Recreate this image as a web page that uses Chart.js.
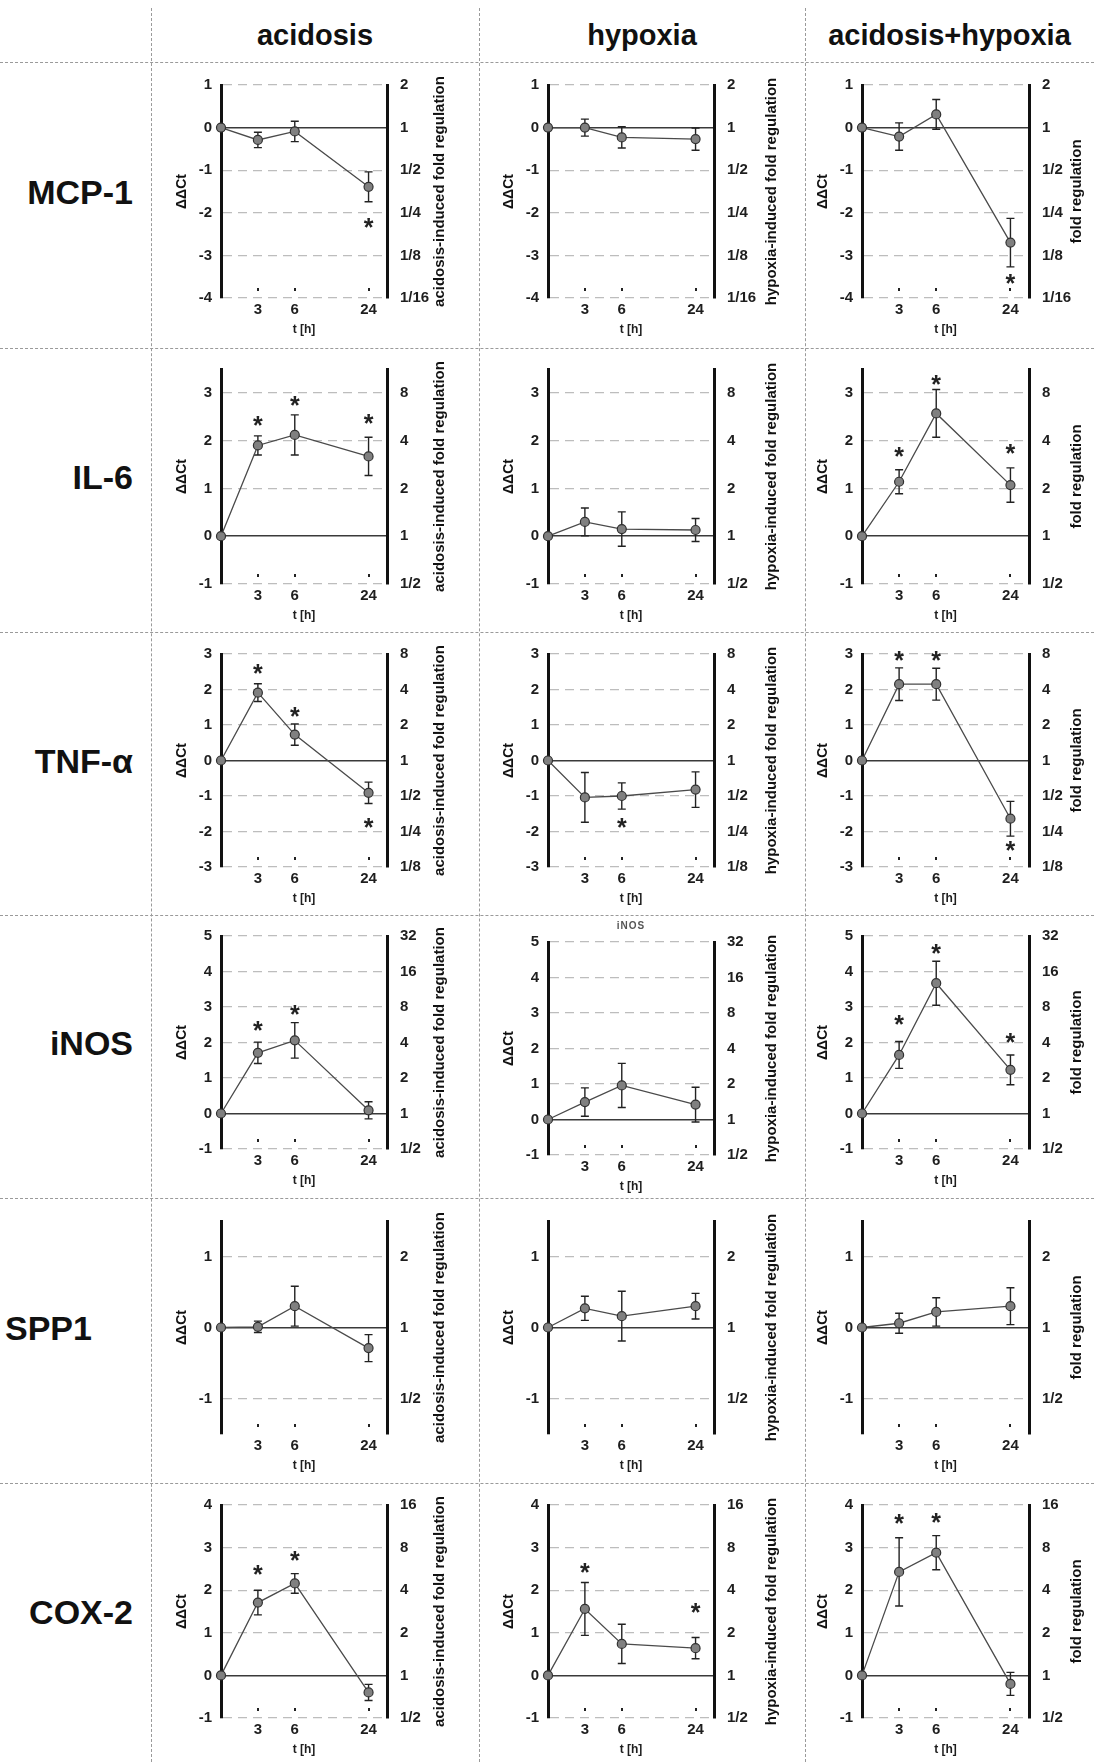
<!DOCTYPE html>
<html>
<head>
<meta charset="utf-8">
<title>ΔΔCt time courses</title>
<script src="https://cdn.jsdelivr.net/npm/chart.js@4.4.1/dist/chart.umd.min.js"></script>
<style>
  body { margin: 0; background: #fff; }
  #page { position: relative; width: 1094px; height: 1762px; overflow: hidden; font-family: 'Liberation Sans', Arial, sans-serif; }
  .hline { position: absolute; left: 0; width: 1094px; height: 0; border-top: 1px dashed #9a9a9a; }
  .vline { position: absolute; top: 8px; bottom: 0; width: 0; border-left: 1px dashed #9a9a9a; }
  .head { position: absolute; top: 17px; height: 36px; line-height: 36px; text-align: center; font-weight: bold; font-size: 29px; color: #111; }
  .gene { position: absolute; height: 40px; line-height: 40px; font-weight: bold; font-size: 34px; color: #111; }
  canvas { position: absolute; }
</style>
</head>
<body>
<div id="page"></div>
<script>
/*
  Grille 6 gènes x 3 conditions : ΔΔCt (axe gauche) et fold regulation = 2^ΔΔCt (axe droit)
*/
var genes = ['MCP-1', 'IL-6', 'TNF-α', 'iNOS', 'SPP1', 'COX-2'];
var conditions = ['acidosis', 'hypoxia', 'acidosis+hypoxia'];
var foldTitles = ['acidosis-induced fold regulation', 'hypoxia-induced fold regulation', 'fold regulation'];
var hours = [0, 3, 6, 24];
var yRanges = [[-4, 1], [-1, 3.5], [-3, 3], [-1, 5], [-1.5, 1.5], [-1, 4]]; // ΔΔCt par gène

// moyenne ΔΔCt à 0, 3, 6, 24 h / demi-barre d'erreur / position de l'étoile (null = pas d'étoile)
var noStars = [null, null, null, null];

var mcp1Acid = [0, -0.29, -0.09, -1.39], mcp1AcidErr = [0, 0.18, 0.24, 0.35], mcp1AcidStar = [null, null, null, -2.23];
var mcp1Hyp = [0, 0.0, -0.23, -0.27], mcp1HypErr = [0, 0.2, 0.25, 0.26];
var mcp1Both = [0, -0.21, 0.31, -2.70], mcp1BothErr = [0, 0.32, 0.35, 0.57], mcp1BothStar = [null, null, null, -3.55];

var il6Acid = [0, 1.90, 2.12, 1.67], il6AcidErr = [0, 0.2, 0.42, 0.4], il6AcidStar = [null, 2.41, 2.83, 2.45];
var il6Hyp = [0, 0.30, 0.15, 0.13], il6HypErr = [0, 0.29, 0.36, 0.24];
var il6Both = [0, 1.14, 2.57, 1.07], il6BothErr = [0, 0.25, 0.5, 0.36], il6BothStar = [null, 1.76, 3.26, 1.83];

var tnfAcid = [0, 1.91, 0.73, -0.91], tnfAcidErr = [0, 0.25, 0.3, 0.3], tnfAcidStar = [null, 2.58, 1.36, -1.77];
var tnfHyp = [0, -1.04, -1.0, -0.82], tnfHypErr = [0, 0.7, 0.37, 0.5], tnfHypStar = [null, null, -1.77, null];
var tnfBoth = [0, 2.15, 2.15, -1.64], tnfBothErr = [0, 0.46, 0.45, 0.49], tnfBothStar = [null, 2.95, 2.95, -2.42];

var inosAcid = [0, 1.71, 2.06, 0.09], inosAcidErr = [0, 0.3, 0.5, 0.24], inosAcidStar = [null, 2.47, 2.91, null];
var inosHyp = [0, 0.49, 0.96, 0.42], inosHypErr = [0, 0.4, 0.62, 0.49];
var inosBoth = [0, 1.65, 3.67, 1.23], inosBothErr = [0, 0.38, 0.62, 0.42], inosBothStar = [null, 2.63, 4.62, 2.12];

var spp1Acid = [0, 0.01, 0.30, -0.29], spp1AcidErr = [0, 0.08, 0.28, 0.19];
var spp1Hyp = [0, 0.27, 0.16, 0.30], spp1HypErr = [0, 0.17, 0.35, 0.18];
var spp1Both = [0, 0.06, 0.22, 0.30], spp1BothErr = [0, 0.14, 0.2, 0.26];

var cox2Acid = [0, 1.71, 2.16, -0.40], cox2AcidErr = [0, 0.29, 0.23, 0.19], cox2AcidStar = [null, 2.47, 2.81, null];
var cox2Hyp = [0, 1.56, 0.74, 0.64], cox2HypErr = [0, 0.62, 0.46, 0.25], cox2HypStar = [null, 2.52, null, 1.59];
var cox2Both = [0, 2.43, 2.88, -0.20], cox2BothErr = [0, 0.8, 0.4, 0.27], cox2BothStar = [null, 3.66, 3.70, null];

var series = [
    [[mcp1Acid, mcp1AcidErr, mcp1AcidStar], [mcp1Hyp, mcp1HypErr, noStars], [mcp1Both, mcp1BothErr, mcp1BothStar]],
    [[il6Acid, il6AcidErr, il6AcidStar], [il6Hyp, il6HypErr, noStars], [il6Both, il6BothErr, il6BothStar]],
    [[tnfAcid, tnfAcidErr, tnfAcidStar], [tnfHyp, tnfHypErr, tnfHypStar], [tnfBoth, tnfBothErr, tnfBothStar]],
    [[inosAcid, inosAcidErr, inosAcidStar], [inosHyp, inosHypErr, noStars], [inosBoth, inosBothErr, inosBothStar]],
    [[spp1Acid, spp1AcidErr, noStars], [spp1Hyp, spp1HypErr, noStars], [spp1Both, spp1BothErr, noStars]],
    [[cox2Acid, cox2AcidErr, cox2AcidStar], [cox2Hyp, cox2HypErr, cox2HypStar], [cox2Both, cox2BothErr, cox2BothStar]]
];

// mise en page (pixels de la page)
var colEdges = [151, 479, 805, 1094];
var rowLines = [62, 348, 632, 915, 1198, 1483];
var colAxes = [[221, 387], [548, 714], [862, 1029]];   // axe gauche / axe droit
var rowAxes = [[85, 298], [369, 584], [654, 867], [936, 1149], [1221, 1434], [1505, 1718]];
var foldTitleOffset = [53, 58, 48];

var FONT = "'Liberation Sans', Arial, sans-serif";
Chart.defaults.font.family = FONT;
Chart.defaults.color = '#1e1e1e';

// l'axe du temps est espacé en log2 : 3 h -> 1, 6 h -> 2, 24 h -> 4
function hourPos(h) {
    return h === 0 ? 0 : Math.log2(h / 1.5);
}

function intTicks(scale) {
    var t = [];
    for (var v = Math.ceil(scale.min); v <= Math.floor(scale.max); v++) t.push({ value: v });
    scale.ticks = t;
}

function foldLabel(v) {
    return v >= 0 ? String(Math.pow(2, v)) : '1/' + Math.pow(2, -v);
}

var page = document.getElementById('page');

function addDiv(cls, css, text) {
    var d = document.createElement('div');
    d.className = cls;
    d.style.cssText = css;
    if (text) d.textContent = text;
    page.appendChild(d);
}

rowLines.forEach(function (y) { addDiv('hline', 'top:' + y + 'px;'); });
colEdges.slice(0, 3).forEach(function (x) { addDiv('vline', 'left:' + x + 'px;'); });
conditions.forEach(function (c, i) {
    addDiv('head', 'left:' + colEdges[i] + 'px;width:' + (colEdges[i + 1] - colEdges[i]) + 'px;', c);
});
genes.forEach(function (g, i) {
    var yc = (rowAxes[i][0] + rowAxes[i][1]) / 2 - 20;
    if (g === 'SPP1') addDiv('gene', 'left:5px;top:' + yc + 'px;', g);
    else addDiv('gene', 'left:0;width:133px;text-align:right;top:' + yc + 'px;', g);
});

// barres d'erreur, étoiles, petits tirets de l'axe x, titre de droite
var marksPlugin = {
    id: 'marks',
    beforeDatasetsDraw: function (chart) {
        var ds = chart.data.datasets[0];
        var meta = chart.getDatasetMeta(0);
        var ys = chart.scales.y;
        var ctx = chart.ctx;
        ctx.save();
        ctx.strokeStyle = '#222';
        ctx.lineWidth = 1.4;
        meta.data.forEach(function (pt, i) {
            var e = ds.errs[i];
            if (!e) return;
            var v = ds.data[i].y;
            var y1 = ys.getPixelForValue(v + e), y2 = ys.getPixelForValue(v - e);
            ctx.beginPath();
            ctx.moveTo(pt.x, y1); ctx.lineTo(pt.x, y2);
            ctx.moveTo(pt.x - 4, y1); ctx.lineTo(pt.x + 4, y1);
            ctx.moveTo(pt.x - 4, y2); ctx.lineTo(pt.x + 4, y2);
            ctx.stroke();
        });
        ctx.restore();
    },
    afterDraw: function (chart, args, o) {
        var ctx = chart.ctx, a = chart.chartArea;
        var xs = chart.scales.x, ys = chart.scales.y;
        var ds = chart.data.datasets[0], meta = chart.getDatasetMeta(0);
        ctx.save();
        ctx.fillStyle = '#222';
        xs.ticks.forEach(function (t) {
            ctx.fillRect(Math.round(xs.getPixelForValue(t.value)) - 1, a.bottom - 10, 2, 3);
        });
        ctx.font = 'bold 25px ' + FONT;
        ctx.textAlign = 'center';
        ctx.textBaseline = 'alphabetic';
        var m = ctx.measureText('*');
        var off = (m.actualBoundingBoxAscent - m.actualBoundingBoxDescent) / 2;
        ds.stars.forEach(function (s, i) {
            if (s === null) return;
            ctx.fillText('*', meta.data[i].x, ys.getPixelForValue(s) + off);
        });
        if (o.note) {
            ctx.font = 'bold 10px ' + FONT;
            ctx.fillStyle = '#555';
            ctx.textBaseline = 'middle';
            ctx.letterSpacing = '1px';
            ctx.fillText(o.note, (a.left + a.right) / 2, a.top - 16);
            ctx.letterSpacing = '0px';
        }
        ctx.fillStyle = '#111';
        ctx.font = 'bold 15px ' + FONT;
        ctx.textBaseline = 'middle';
        ctx.translate(a.right + o.titleOffset, (a.top + a.bottom) / 2);
        ctx.rotate(-Math.PI / 2);
        ctx.fillText(o.title, 0, 0);
        ctx.restore();
    }
};

function makeChart(gi, ci) {
    var s = series[gi][ci];
    var L = colAxes[ci][0], R = colAxes[ci][1];
    var T = rowAxes[gi][0], B = rowAxes[gi][1];
    if (gi === 3 && ci === 1) { T += 6; B += 6; } // titre "iNOS" au-dessus
    var padL = 72, padR = 68, padT = 22, padB = 45;

    var cv = document.createElement('canvas');
    cv.width = padL + (R - L) + padR;
    cv.height = padT + (B - T) + padB;
    cv.style.left = (L - padL) + 'px';
    cv.style.top = (T - padT) + 'px';
    page.appendChild(cv);

    var tickFont = { size: 15, weight: 'bold' };

    new Chart(cv, {
        type: 'line',
        data: {
            datasets: [{
                data: hours.map(function (h, i) { return { x: hourPos(h), y: s[0][i] }; }),
                errs: s[1],
                stars: s[2],
                borderColor: '#4a4a4a',
                borderWidth: 1.3,
                pointBackgroundColor: '#808080',
                pointBorderColor: '#303030',
                pointBorderWidth: 1.2,
                pointRadius: 4.5,
                tension: 0,
                clip: false
            }]
        },
        options: {
            responsive: false,
            animation: false,
            devicePixelRatio: 1,
            layout: { padding: { top: padT, left: 0, right: 0, bottom: 0 } },
            plugins: {
                legend: { display: false },
                tooltip: { enabled: false },
                marks: {
                    title: foldTitles[ci],
                    titleOffset: foldTitleOffset[ci],
                    note: (gi === 3 && ci === 1) ? 'iNOS' : ''
                }
            },
            scales: {
                x: {
                    type: 'linear',
                    min: 0,
                    max: 4.5,
                    afterBuildTicks: function (sc) {
                        sc.ticks = hours.slice(1).map(function (h) { return { value: hourPos(h) }; });
                    },
                    afterFit: function (sc) { sc.height = padB; },
                    ticks: {
                        autoSkip: false,
                        maxRotation: 0,
                        padding: 3,
                        font: tickFont,
                        callback: function (v, i) { return String(hours[i + 1]); }
                    },
                    grid: { display: false, drawTicks: false },
                    border: { display: false },
                    title: { display: true, text: 't [h]', font: { size: 12, weight: 'bold' }, padding: { top: 0, bottom: 6 } }
                },
                y: {
                    position: 'left',
                    min: yRanges[gi][0],
                    max: yRanges[gi][1],
                    afterBuildTicks: intTicks,
                    afterFit: function (sc) { sc.width = padL; },
                    ticks: { padding: 9, font: tickFont },
                    grid: {
                        drawTicks: false,
                        lineWidth: 1.3,
                        color: function (c) { return c.tick && c.tick.value === 0 ? 'rgba(0,0,0,0)' : '#bdbdbd'; }
                    },
                    border: { display: true, color: '#111', width: 3, dash: [9, 6] },
                    title: { display: true, text: 'ΔΔCt', font: { size: 14, weight: 'bold' }, color: '#111', padding: { top: 25, bottom: 0 } }
                },
                y2: {
                    position: 'right',
                    min: yRanges[gi][0],
                    max: yRanges[gi][1],
                    afterBuildTicks: intTicks,
                    afterFit: function (sc) { sc.width = padR; },
                    ticks: { padding: 13, font: tickFont, callback: foldLabel },
                    grid: {
                        drawTicks: false,
                        lineWidth: 1.5,
                        color: function (c) { return c.tick && c.tick.value === 0 ? '#3a3a3a' : 'rgba(0,0,0,0)'; }
                    },
                    border: { display: true, color: '#111', width: 3 }
                }
            }
        },
        plugins: [marksPlugin]
    });
}

for (var gi = 0; gi < genes.length; gi++) {
    for (var ci = 0; ci < conditions.length; ci++) {
        makeChart(gi, ci);
    }
}
</script>
</body>
</html>
